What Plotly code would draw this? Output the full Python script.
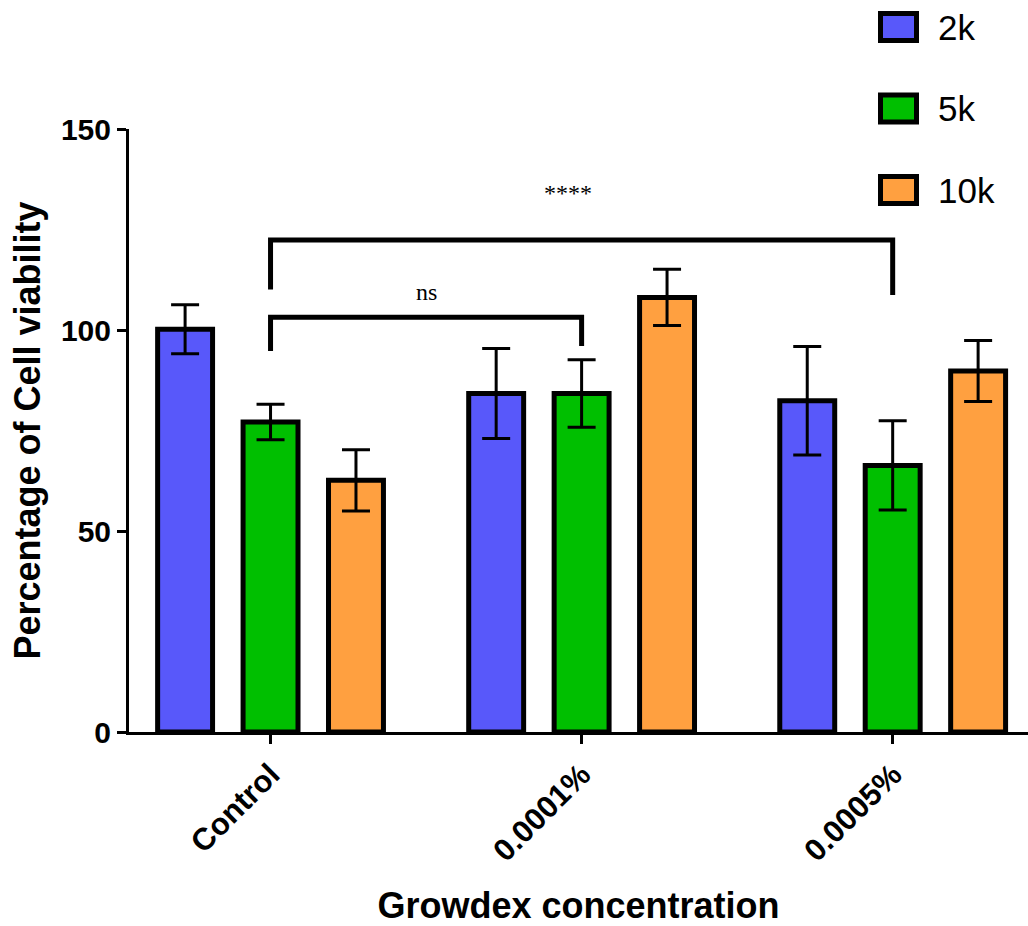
import plotly.graph_objects as go

# Cell viability (%) by Growdex concentration and cell density
groups = ["Control", "0.0001%", "0.0005%"]
series_names = ["2k", "5k", "10k"]
series_colors = ["#5858FA", "#00BF00", "#FFA040"]

viability_2k = [100.2, 84.2, 82.4]
viability_5k = [77.1, 84.2, 66.3]
viability_10k = [62.6, 108.1, 89.8]

sd_2k = [6.1, 11.2, 13.5]
sd_5k = [4.4, 8.4, 11.1]
sd_10k = [7.6, 7.0, 7.6]

values = [viability_2k, viability_5k, viability_10k]
errors = [sd_2k, sd_5k, sd_10k]
positions = list(range(len(groups)))

W, H = 1028, 926
M_L, M_R, M_T, M_B = 129, 0, 129, 194

fig = go.Figure()
for name, color, vals, errs in zip(series_names, series_colors, values, errors):
    fig.add_bar(
        x=positions, y=vals, name=name, showlegend=False,
        marker=dict(color=color, line=dict(color="black", width=5)),
        error_y=dict(type="data", array=errs, color="black", thickness=3, width=14),
    )

# significance brackets: (from group, to group, bar height, left drop, right drop, label, label x, label y)
brackets = [
    (0, 1, 103.2, 94.8, 96.0, "ns", 0.50, 109.5),
    (0, 2, 122.4, 110.1, 108.7, "****", 0.955, 134.0),
]
for g0, g1, top, d0, d1, label, lx, ly in brackets:
    fig.add_shape(
        type="path", xref="x", yref="y",
        path=f"M {g0},{d0} L {g0},{top} L {g1},{top} L {g1},{d1}",
        line=dict(color="black", width=5),
    )
    fig.add_annotation(
        x=lx, y=ly, xref="x", yref="y", text=label, showarrow=False,
        font=dict(family="Liberation Serif, Times New Roman, serif", size=24, color="black"),
    )

# hand-built legend with large outlined swatches
plot_w = W - M_L - M_R
plot_h = H - M_T - M_B


def px_x(v):
    return (v - M_L) / plot_w


def px_y(v):
    return (H - M_B - v) / plot_h


row0, row_step = 27, 81.5
for i, (name, color) in enumerate(zip(series_names, series_colors)):
    cy = row0 + i * row_step
    fig.add_shape(
        type="rect", xref="paper", yref="paper",
        x0=px_x(880.5), x1=px_x(916.5), y0=px_y(cy + 13.5), y1=px_y(cy - 13.5),
        fillcolor=color, line=dict(color="black", width=5),
    )
    fig.add_annotation(
        x=px_x(936), y=px_y(cy), xref="paper", yref="paper",
        xanchor="left", yanchor="middle", text=name, showarrow=False,
        font=dict(family="Liberation Sans, Arial, sans-serif", size=35, color="black"),
    )

axis_font = dict(family="Liberation Sans, Arial, sans-serif", size=30, color="black", weight="bold")
title_font = dict(family="Liberation Sans, Arial, sans-serif", size=36, color="black", weight="bold")

fig.update_layout(
    width=W, height=H,
    margin=dict(l=M_L, r=M_R, t=M_T, b=M_B, autoexpand=False),
    paper_bgcolor="white", plot_bgcolor="white",
    barmode="group", bargap=0.176, bargroupgap=0.357,
    xaxis=dict(
        range=[-0.455, 2.435], tickvals=positions, ticktext=groups,
        tickangle=-45, tickfont=dict(axis_font, size=31),
        showline=True, linecolor="black", linewidth=3,
        ticks="outside", ticklen=9, tickwidth=3, tickcolor="black",
        showgrid=False, zeroline=False,
        title=dict(text="Growdex concentration", font=title_font, standoff=30),
    ),
    yaxis=dict(
        range=[0, 150], tickvals=[0, 50, 100, 150],
        tickfont=axis_font,
        showline=True, linecolor="black", linewidth=3,
        ticks="outside", ticklen=9, tickwidth=3, tickcolor="black",
        showgrid=False, zeroline=False,
        title=dict(text="Percentage of Cell viability", font=title_font, standoff=10),
    ),
)

fig.write_html("out.html")
